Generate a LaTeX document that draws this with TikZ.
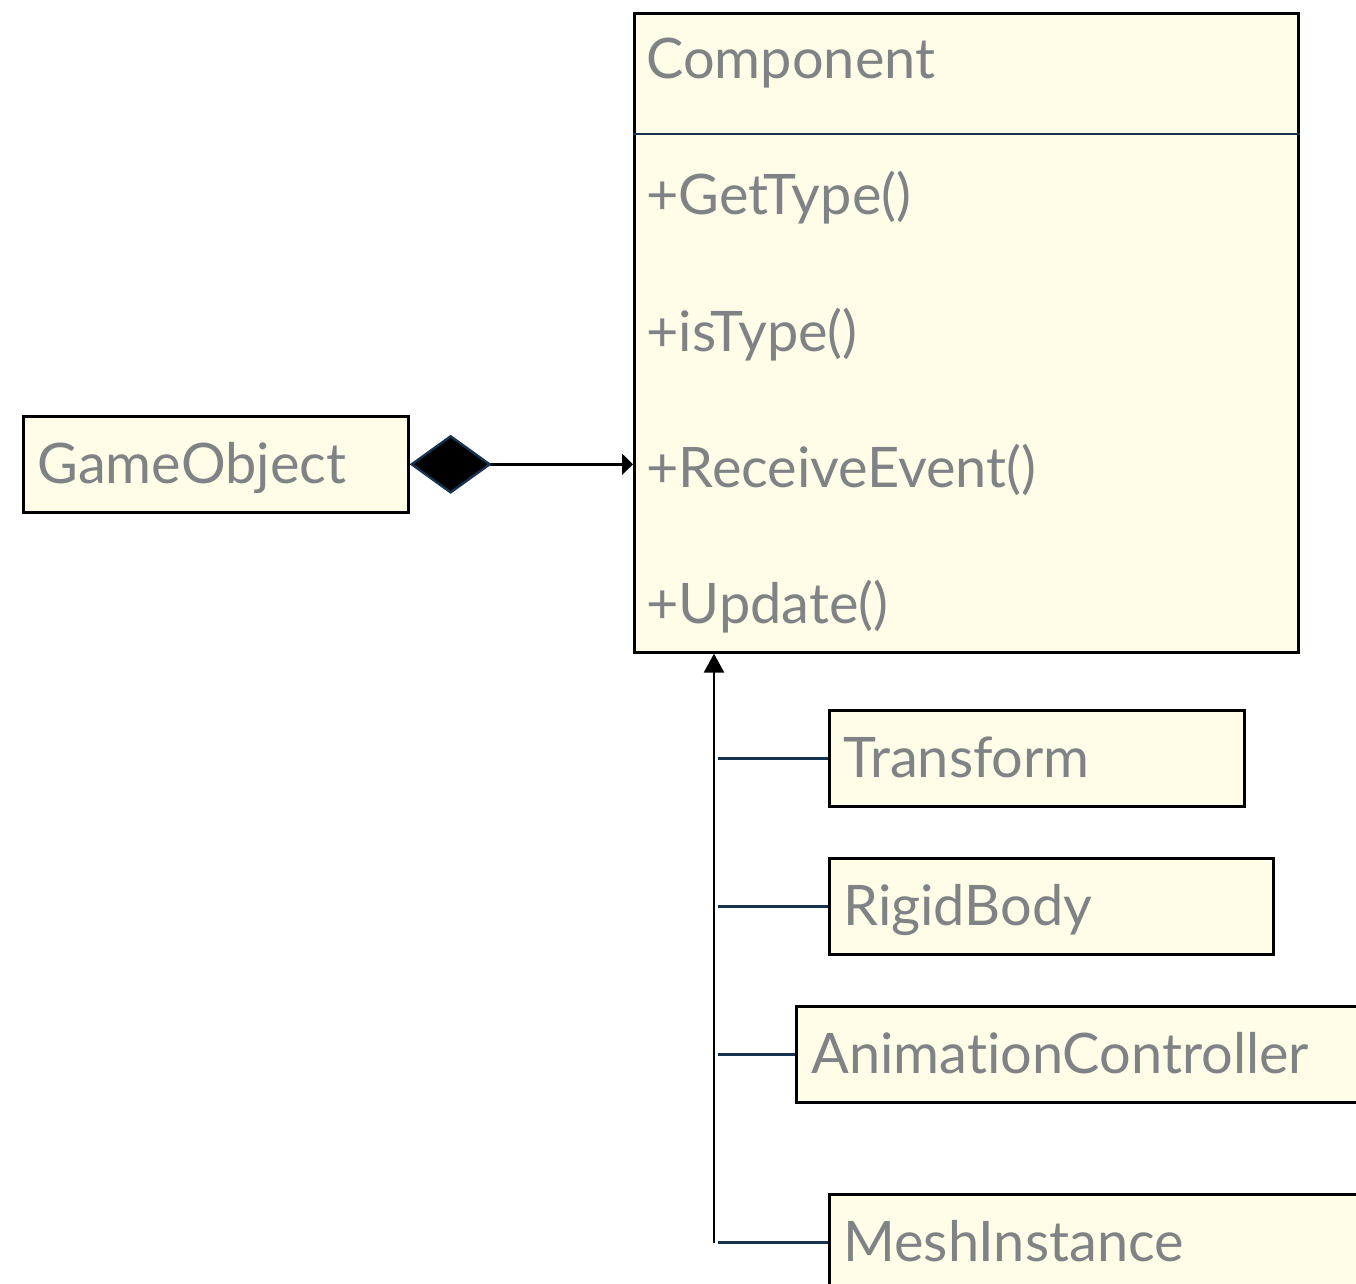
\documentclass[tikz,border=0pt]{standalone}
\usepackage{fontspec}
\setmainfont{Lato}[Ligatures=NoCommon]
\usetikzlibrary{
    arrows.meta,
    positioning
}
\definecolor{umlfill}{RGB}{255,253,232}
\definecolor{umltext}{RGB}{128,131,134}
\definecolor{umlnavy}{RGB}{22,50,79}
\newcommand\umlfont{\fontsize{31.8}{38}\selectfont}
\tikzset{
  classbox/.style={
    draw=black,
    fill=umlfill,
    line width=1.5pt,
    anchor=north west,
    inner xsep=0.28cm,
    inner ysep=0pt,
    minimum height=1.92cm,
    text height=0.78cm,
    text depth=0pt,
    align=left,
    text=umltext,
    font=\umlfont
  },
  member/.style={
    text=umltext,
    font=\umlfont,
    anchor=base west,
    inner sep=0pt
  },
  link/.style={
    umlnavy,
    line width=1.4pt
  }
}

\begin{document}
\begin{tikzpicture}
\path[use as bounding box, clip] (0,0) rectangle (27.12,-25.68);

% the base class
\node[classbox, minimum width=13.28cm, minimum height=12.78cm] (comp) at (12.66,-0.24) {};
\draw[link] (comp.west |- 0,-2.68) -- (comp.east |- 0,-2.68);
\node[member] (title) at (12.92,-1.56) {Component};
\foreach \name/\y/\txt in {gt/-4.28/+GetType(), it/-7.02/+isType(),
                           re/-9.74/+ReceiveEvent(), up/-12.46/+Update()} {
  \node[member] (\name) at (12.92,\y) {\txt};
}

% owner
\node[classbox, minimum width=7.7cm, text width=7.14cm] (go) at (0.44,-8.30) {GameObject};
\draw[line width=1.4pt,
      {Diamond[length=1.64cm,width=1.18cm,fill=black,color=umlnavy]}-{Triangle[length=0.22cm,width=0.42cm]}]
  (go.east) -- (go.east -| comp.west);

% subclasses
\node[classbox, minimum width=8.3cm, text width=7.74cm] (tf) at (16.56,-14.18) {Transform};
\node[classbox, minimum width=8.88cm, text width=8.32cm] (rb) at (16.56,-17.14) {RigidBody};
\node[classbox, minimum width=11.5cm, text width=10.9cm, inner xsep=0.3cm] (ac) at (15.9,-20.10) {AnimationController};
\node[classbox, minimum width=10.84cm, text width=10.28cm] (mi) at (16.56,-23.86) {MeshInstance};

\coordinate (base) at (14.28,-24.86);
\draw[line width=1.4pt, -{Triangle[length=0.38cm,width=0.4cm]}] (base) -- (base |- comp.south);
\foreach \n in {tf,rb,ac,mi}
  \draw[link, shorten <=0.08cm] (\n.west -| base) -- (\n.west);
\end{tikzpicture}
\end{document}
